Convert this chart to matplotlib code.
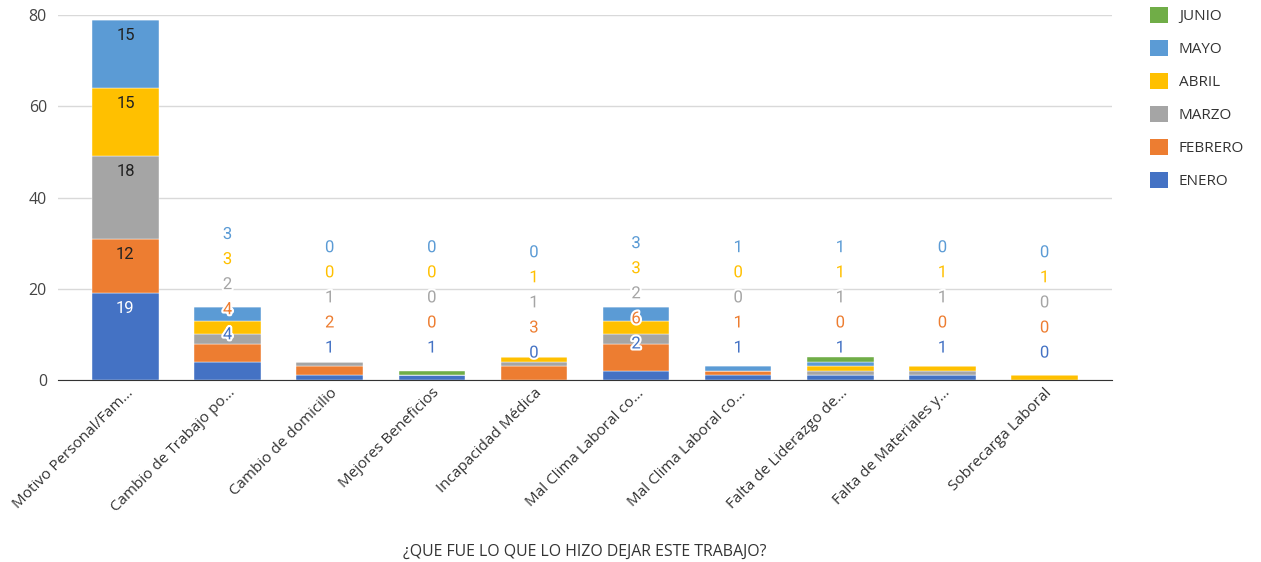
import matplotlib.pyplot as plt
import matplotlib.patheffects as pe
from matplotlib.patches import Patch
import numpy as np

# categories and monthly counts
categories = ["Motivo Personal/Fam...", "Cambio de Trabajo po...", "Cambio de domicilio",
              "Mejores Beneficios", "Incapacidad Médica", "Mal Clima Laboral co...",
              "Mal Clima Laboral co...", "Falta de Liderazgo de...", "Falta de Materiales y...",
              "Sobrecarga Laboral"]
months = ["ENERO", "FEBRERO", "MARZO", "ABRIL", "MAYO", "JUNIO"]
enero = [19, 4, 1, 1, 0, 2, 1, 1, 1, 0]
febrero = [12, 4, 2, 0, 3, 6, 1, 0, 0, 0]
marzo = [18, 2, 1, 0, 1, 2, 0, 1, 1, 0]
abril = [15, 3, 0, 0, 1, 3, 0, 1, 1, 1]
mayo = [15, 3, 0, 0, 0, 3, 1, 1, 0, 0]
junio = [0, 0, 0, 1, 0, 0, 0, 1, 0, 0]
series = [enero, febrero, marzo, abril, mayo, junio]
colors = ["#4472C4", "#ED7D31", "#A5A5A5", "#FFC000", "#5B9BD5", "#70AD47"]

# where the stacked label column starts for the small bars (data units)
label_base = [None, 9.9, 7.0, 7.0, 5.9, 7.9, 7.0, 7.0, 7.0, 5.9]
label_step = 5.5

plt.rcParams['font.family'] = ['Open Sans', 'DejaVu Sans']

fig = plt.figure(figsize=(12.61, 5.62), dpi=100)
ax = fig.add_axes([58 / 1261, 1 - 380 / 562, (1112 - 58) / 1261, (380 - 15) / 562])

x = np.arange(len(categories))
bottom = np.zeros(len(categories))
for vals, col, name in zip(series, colors, months):
    ax.bar(x, vals, 0.65, bottom=bottom, color=col, label=name, zorder=2,
           edgecolor="white", linewidth=0.3)
    bottom += np.array(vals)

# data labels
for i in range(len(categories)):
    if label_base[i] is None:
        b = 0
        for k in range(5):
            v = series[k][i]
            tc = "white" if k == 0 else "#222222"
            ax.text(x[i], b + v - 3.4, str(v), ha="center", va="center", fontsize=12,
                    color=tc, family="Roboto", zorder=4)
            b += v
    else:
        for k in range(5):
            v = series[k][i]
            ax.text(x[i], label_base[i] + k * label_step, str(v), ha="center", va="center",
                    fontsize=12, color=colors[k], family="Roboto", zorder=4,
                    path_effects=[pe.withStroke(linewidth=3, foreground="white")])

ax.set_xlim(-0.66, 9.66)
ax.set_ylim(0, 80)
ax.set_yticks([0, 20, 40, 60, 80])
ax.grid(axis="y", color="#d9d9d9", linewidth=1, zorder=0)
for s in ["top", "right", "left"]:
    ax.spines[s].set_visible(False)
ax.spines["bottom"].set_color("#333333")
ax.spines["bottom"].set_zorder(3)
ax.tick_params(axis="y", length=0, labelsize=11.5, labelcolor="#444444", pad=8)
ax.tick_params(axis="x", length=0, labelsize=11, labelcolor="#333333", pad=4)
ax.set_xticks(x)
ax.set_xticklabels(categories, rotation=45, ha="right", rotation_mode="anchor")
fig.text(585 / 1261, 1 - 552 / 562, "¿QUE FUE LO QUE LO HIZO DEJAR ESTE TRABAJO?",
         fontsize=11.4, color="#333333", ha="center", va="center")

handles = [Patch(facecolor=c, edgecolor="none") for c in colors][::-1]
fig.legend(handles, months[::-1], loc="upper left", bbox_to_anchor=(1136 / 1261, 1.012),
           frameon=False, fontsize=11, handlelength=1.2, handleheight=1.2,
           labelspacing=1.05, handletextpad=0.7, labelcolor="#333333")

fig.savefig("out.png", dpi=100)
